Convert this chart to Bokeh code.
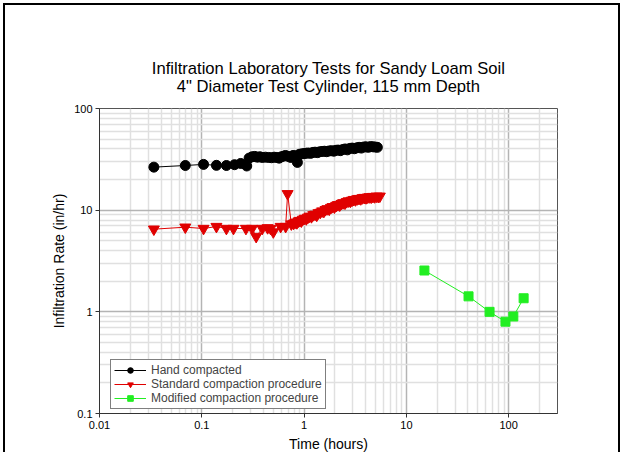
import numpy as np
from bokeh.plotting import figure
from bokeh.models import (FixedTicker, CustomJSTickFormatter, Legend, LegendItem,
                          Title, Range1d)
from bokeh.embed import file_html
from bokeh.resources import INLINE

title_line1 = "Infiltration Laboratory Tests for Sandy Loam Soil"
title_line2 = '4" Diameter Test Cylinder, 115 mm Depth'
x_label = "Time (hours)"
y_label = "Infiltration Rate (in/hr)"
x_ticks = [0.01, 0.1, 1, 10, 100]
y_ticks = [0.1, 1, 10, 100]

hand_t = [0.034, 0.069, 0.104, 0.139, 0.174, 0.209, 0.24, 0.275,
          0.29, 0.31, 0.33, 0.35, 0.37, 0.39, 0.42, 0.45, 0.48, 0.51,
          0.54, 0.57, 0.60, 0.63, 0.66, 0.70, 0.74, 0.78, 0.82, 0.86,
          0.90, 0.95, 1.0, 1.05, 1.1, 1.16, 1.22, 1.28, 1.35, 1.42,
          1.5, 1.58, 1.66, 1.75, 1.85, 1.95, 2.05, 2.15, 2.27, 2.39,
          2.52, 2.65, 2.8, 2.95, 3.1, 3.27, 3.45, 3.63, 3.82, 4.02,
          4.24, 4.46, 4.7, 4.95, 5.2]
hand_rate = [26.5, 27.5, 28.2, 27.6, 27.5, 28.0, 28.8, 27.2,
             32.5, 33.5, 33.8, 33.2, 33.5, 33.0, 33.2, 33.0, 32.8, 33.2,
             33.0, 32.5, 33.5, 34.0, 34.5, 33.8, 33.0, 34.5, 34.2, 29.5,
             35.5, 35.8, 36.0, 36.3, 36.5, 36.2, 37.0, 37.2, 36.8, 37.5,
             37.8, 38.0, 37.6, 38.2, 38.5, 38.0, 38.8, 39.0, 38.5, 39.5,
             40.0, 39.2, 40.5, 40.8, 40.2, 41.0, 41.5, 40.8, 41.8, 42.0,
             41.5, 42.2, 42.0, 41.8, 41.5]

std_t = [0.034, 0.069, 0.104, 0.139, 0.174, 0.204, 0.27, 0.31, 0.34,
         0.39, 0.44, 0.47, 0.50, 0.59, 0.66, 0.69, 0.75,
         0.79, 0.82, 0.85, 0.88, 0.91, 0.94, 0.97, 1.01, 1.05, 1.09,
         1.13, 1.18, 1.23, 1.28, 1.33, 1.38, 1.44, 1.50, 1.56, 1.62,
         1.69, 1.76, 1.83, 1.90, 1.98, 2.06, 2.14, 2.23, 2.32, 2.41,
         2.51, 2.61, 2.72, 2.83, 2.94, 3.06, 3.18, 3.31, 3.44, 3.58,
         3.72, 3.87, 4.03, 4.19, 4.36, 4.53, 4.71, 4.90, 5.10, 5.30,
         5.50]
std_rate = [6.5, 6.8, 6.6, 6.9, 6.6, 6.6, 6.6, 6.6, 5.5,
            6.6, 6.7, 6.6, 6.1, 6.9, 6.9, 14.5, 7.3,
            7.4, 7.6, 7.5, 7.8, 7.9, 7.8, 8.1, 8.3, 8.2, 8.5,
            8.7, 8.6, 9.0, 9.1, 8.9, 9.4, 9.5, 9.8, 9.7, 10.1,
            10.3, 10.2, 10.6, 10.8, 10.7, 11.1, 11.3, 11.2, 11.6, 11.8,
            11.7, 12.1, 12.3, 12.2, 12.5, 12.7, 12.6, 12.9, 13.0, 12.9,
            13.2, 13.3, 13.2, 13.4, 13.5, 13.4, 13.6, 13.5, 13.7, 13.6,
            13.7]

mod_t = [15.0, 40.5, 65.0, 93.0, 111.0, 140.0]
mod_rate = [2.55, 1.42, 1.0, 0.80, 0.90, 1.36]

series_labels = ["Hand compacted", "Standard compaction procedure",
                 "Modified compaction procedure"]

FONT = "Liberation Sans"

p = figure(width=617, height=449, x_axis_type="log", y_axis_type="log",
           x_range=Range1d(0.01, 300), y_range=Range1d(0.1, 100),
           output_backend="svg", toolbar_location=None,
           min_border_left=94, min_border_right=65, min_border_top=103,
           min_border_bottom=41, title=None)
p.styles = {"margin": "3px 0px 0px 3px",
            "border-left": "2px solid black",
            "border-top": "2px solid black",
            "border-right": "2px solid black"}
p.background_fill_color = "white"
p.border_fill_color = "white"
p.outline_line_color = "#555555"
p.outline_line_width = 1

x_minor = [m * 10.0 ** e for e in range(-2, 3) for m in range(2, 10) if m * 10.0 ** e <= 300]
y_minor = [m * 10.0 ** e for e in range(-1, 2) for m in range(2, 10)]
xt = FixedTicker(ticks=x_ticks, minor_ticks=x_minor)
yt = FixedTicker(ticks=y_ticks, minor_ticks=y_minor)
p.xaxis.ticker = xt
p.yaxis.ticker = yt
p.xgrid.ticker = xt
p.ygrid.ticker = yt
p.xaxis.formatter = CustomJSTickFormatter(code="return tick.toString();")
p.yaxis.formatter = CustomJSTickFormatter(code="return tick.toString();")

for ax in (p.xaxis, p.yaxis):
    ax.axis_line_color = "#333333"
    ax.major_tick_line_color = "#333333"
    ax.major_tick_out = 4
    ax.major_tick_in = 0
    ax.minor_tick_out = 0
    ax.minor_tick_in = 0
    ax.major_label_text_font = FONT
    ax.major_label_text_font_size = "11px"
    ax.major_label_text_color = "black"
    ax.major_label_standoff = 3
    ax.axis_label_text_font = FONT
    ax.axis_label_text_font_size = "14px"
    ax.axis_label_text_font_style = "normal"
    ax.axis_label_text_color = "black"
p.xaxis.axis_label = x_label
p.yaxis.axis_label = y_label
p.xaxis.axis_label_standoff = 4
p.yaxis.axis_label_standoff = 4

for g in (p.xgrid, p.ygrid):
    g.grid_line_color = "#b4b4b4"
    g.grid_line_width = 1.5
    g.minor_grid_line_color = "#e0e0e0"
    g.minor_grid_line_width = 1.5

c_black, c_red, c_green = "black", "#e00000", "#22ee22"
hl = p.line(hand_t, hand_rate, line_color=c_black, line_width=1)
hs = p.scatter(hand_t, hand_rate, marker="circle", size=10, fill_color=c_black, line_color=c_black)
sl = p.line(std_t, std_rate, line_color=c_red, line_width=1)
ss = p.scatter(std_t, std_rate, marker="inverted_triangle", size=11, fill_color=c_red, line_color=c_red)
ml = p.line(mod_t, mod_rate, line_color=c_green, line_width=1)
ms = p.scatter(mod_t, mod_rate, marker="square", size=9, fill_color=c_green, line_color=c_green)

legend = Legend(items=[LegendItem(label=series_labels[0], renderers=[hl, hs]),
                       LegendItem(label=series_labels[1], renderers=[sl, ss]),
                       LegendItem(label=series_labels[2], renderers=[ml, ms])],
                location=(11, 4), padding=3, spacing=0, margin=0,
                label_height=14, glyph_height=14, glyph_width=32,
                label_standoff=5, border_line_color="black", border_line_width=1,
                background_fill_color="white", background_fill_alpha=1,
                label_text_font=FONT, label_text_font_size="12px")
p.add_layout(legend)

title = Title(text=title_line1 + "\n" + title_line2, align="center", text_font=FONT,
              text_font_size="16.6px", text_font_style="normal", text_color="black",
              text_line_height=0.97, standoff=24)
try:
    title.text_align = "center"
except Exception:
    pass
p.add_layout(title, "above")

open("out.html", "w").write(file_html(p, INLINE))
